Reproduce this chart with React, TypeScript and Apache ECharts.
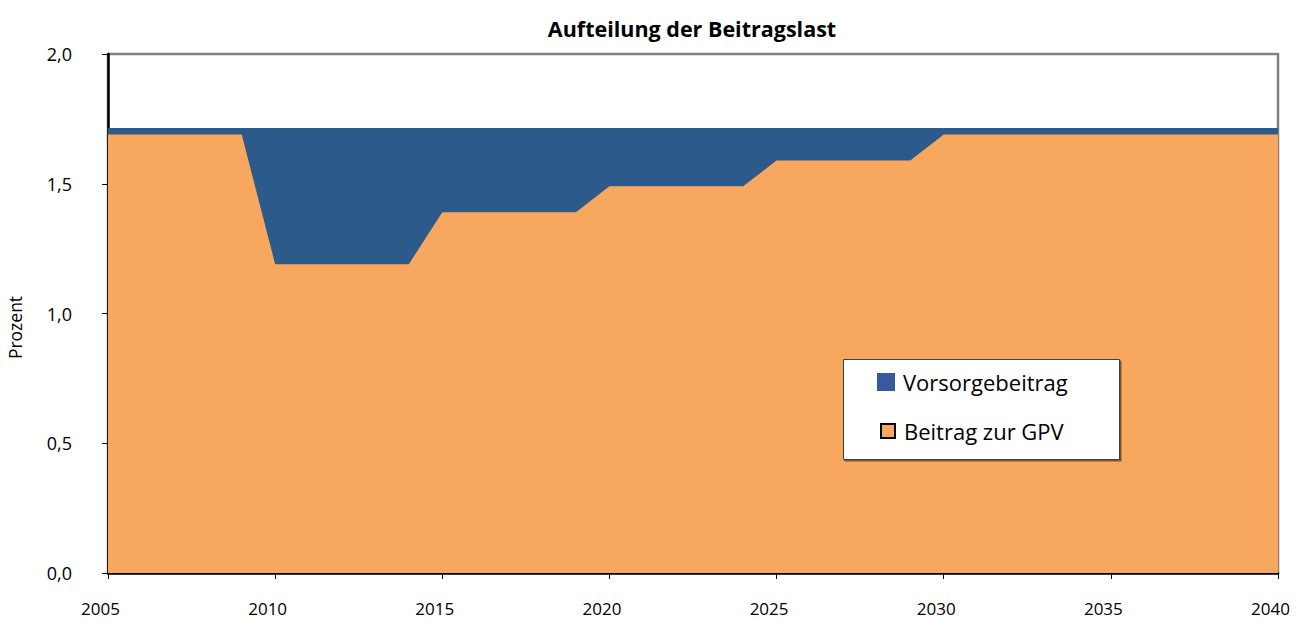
import React, { useEffect, useRef } from "react";
import * as echarts from "echarts";

const years: number[] = [2005,2006,2007,2008,2009,2010,2011,2012,2013,2014,2015,2016,2017,2018,2019,2020,2021,2022,2023,2024,2025,2026,2027,2028,2029,2030,2031,2032,2033,2034,2035,2036,2037,2038,2039,2040];
const gpv: number[] = [1.69,1.69,1.69,1.69,1.69,1.19,1.19,1.19,1.19,1.19,1.39,1.39,1.39,1.39,1.39,1.49,1.49,1.49,1.49,1.49,1.59,1.59,1.59,1.59,1.59,1.69,1.69,1.69,1.69,1.69,1.69,1.69,1.69,1.69,1.69,1.69];
const vorsorge: number[] = [0.025,0.025,0.025,0.025,0.025,0.525,0.525,0.525,0.525,0.525,0.325,0.325,0.325,0.325,0.325,0.225,0.225,0.225,0.225,0.225,0.125,0.125,0.125,0.125,0.125,0.025,0.025,0.025,0.025,0.025,0.025,0.025,0.025,0.025,0.025,0.025];
const seriesNames = ["Vorsorgebeitrag", "Beitrag zur GPV"];
const title = "Aufteilung der Beitragslast";
const yName = "Prozent";

const FONT = "'Open Sans', 'Noto Sans', sans-serif";
const BLUE = "#2C5A8A";
const ORANGE = "#F8A85E";

export default function App() {
  const ref = useRef<HTMLDivElement>(null);
  useEffect(() => {
    if (!ref.current) return;
    const chart = echarts.init(ref.current, undefined, { renderer: "svg" });
    // top of the stack = GPV + Vorsorgebeitrag
    const total = years.map((y, i) => [y, gpv[i] + vorsorge[i]]);
    chart.setOption({
      animation: false,
      backgroundColor: "#ffffff",
      textStyle: { fontFamily: FONT },
      title: {
        text: title,
        left: 687,
        textAlign: "center",
        top: 12,
        textStyle: { fontSize: 21.5, fontWeight: "bold", color: "#000", fontFamily: FONT },
      },
      grid: {
        left: 108,
        right: 24,
        top: 54,
        bottom: 47,
        outerBoundsMode: "none",
        containLabel: false,
        show: true,
        borderColor: "#808080",
        borderWidth: 2.5,
        backgroundColor: "#ffffff",
      },
      xAxis: {
        type: "value",
        min: 2005,
        max: 2040,
        interval: 5,
        axisLine: { show: true, onZero: false, lineStyle: { color: "#000", width: 2.5 } },
        axisTick: { show: true, length: 6, lineStyle: { color: "#000", width: 1 } },
        axisLabel: {
          fontSize: 17,
          color: "#000",
          margin: 27,
          fontFamily: FONT,
          padding: [0, 15, 0, 0],
          formatter: (v: number) => String(v),
        },
        splitLine: { show: false },
      },
      yAxis: {
        type: "value",
        min: 0,
        max: 2,
        interval: 0.5,
        name: yName,
        nameLocation: "middle",
        nameRotate: 90,
        nameGap: 84,
        nameTextStyle: { fontSize: 17.5, color: "#000", fontFamily: FONT, padding: [0, 28, 0, 0] },
        axisLine: { show: true, lineStyle: { color: "#000", width: 2.5 } },
        axisTick: { show: true, length: 6, lineStyle: { color: "#000", width: 1 } },
        axisLabel: {
          fontSize: 18,
          color: "#000",
          margin: 36,
          fontFamily: FONT,
          formatter: (v: number) => v.toFixed(1).replace(".", ","),
        },
        splitLine: { show: false },
      },
      graphic: [
        {
          type: "rect",
          left: 843,
          top: 359,
          shape: { width: 276, height: 100 },
          style: { fill: "#ffffff", stroke: "#404040", lineWidth: 1, shadowColor: "rgba(0,0,0,0.5)", shadowOffsetX: 1.5, shadowOffsetY: 1.5, shadowBlur: 0 },
          z: 10,
        },
      ],
      legend: [
        {
          data: [{ name: seriesNames[0], icon: "rect", itemStyle: { color: "#36599F", borderWidth: 0 } }],
          left: 872,
          top: 366,
          selectedMode: false,
          itemWidth: 18,
          itemHeight: 18,
          itemGap: 8,
          z: 20,
          textStyle: { fontSize: 22, color: "#000", fontFamily: FONT, padding: [0, 0, 0, 3] },
        },
        {
          data: [{ name: seriesNames[1], icon: "rect", itemStyle: { color: ORANGE, borderColor: "#000", borderWidth: 2 } }],
          left: 875,
          top: 415,
          selectedMode: false,
          itemWidth: 14,
          itemHeight: 14,
          itemGap: 10,
          z: 20,
          textStyle: { fontSize: 22, color: "#000", fontFamily: FONT, padding: [0, 0, 0, 4] },
        },
      ],
      series: [
        {
          name: seriesNames[0],
          type: "line",
          data: total,
          showSymbol: false,
          symbol: "none",
          lineStyle: { width: 0 },
          areaStyle: { color: BLUE, opacity: 1 },
          itemStyle: { color: BLUE },
          z: 2,
        },
        {
          name: seriesNames[1],
          type: "line",
          data: years.map((y, i) => [y, gpv[i]]),
          showSymbol: false,
          symbol: "none",
          lineStyle: { width: 0 },
          areaStyle: { color: ORANGE, opacity: 1 },
          itemStyle: { color: ORANGE },
          z: 3,
        },
      ],
    });
    return () => chart.dispose();
  }, []);
  return <div ref={ref} style={{ position: "fixed", left: 0, top: 0, width: 1302, height: 620 }} />;
}
